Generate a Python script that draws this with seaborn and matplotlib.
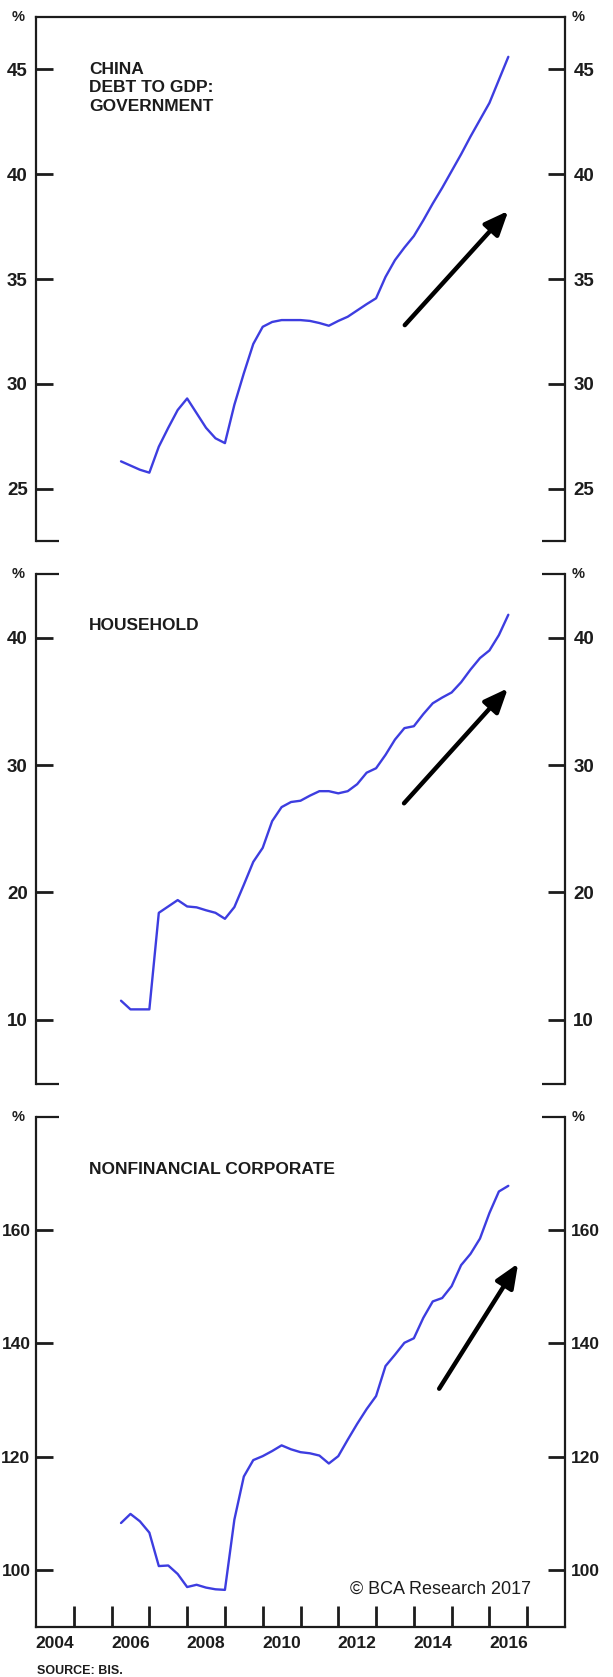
import matplotlib
matplotlib.use("Agg")
import matplotlib.pyplot as plt
import numpy as np
import pandas as pd
import seaborn as sns

# Quarterly observations, 2006Q1 - 2016Q2 (debt as % of GDP)
periods = pd.period_range("2006Q1", "2016Q2", freq="Q")

government = [26.3, 26.1, 25.9, 25.76, 27.0, 27.9, 28.75, 29.3,
              28.6, 27.9, 27.4, 27.17, 29.0, 30.5, 31.9, 32.72,
              32.95, 33.04, 33.04, 33.04, 33.0, 32.9, 32.77, 33.0,
              33.2, 33.5, 33.8, 34.08, 35.1, 35.9, 36.5, 37.05,
              37.8, 38.6, 39.35, 40.15, 40.95, 41.8, 42.6, 43.4,
              44.5, 45.6]

household = [11.5, 10.82, 10.82, 10.82, 18.4, 18.9, 19.4, 18.9,
             18.83, 18.6, 18.4, 17.93, 18.85, 20.6, 22.4, 23.5,
             25.6, 26.7, 27.1, 27.2, 27.6, 27.95, 27.95, 27.78,
             27.95, 28.5, 29.4, 29.75, 30.8, 32.0, 32.9, 33.05,
             34.0, 34.85, 35.3, 35.7, 36.5, 37.5, 38.4, 39.0,
             40.2, 41.8]

corporate = [108.3, 109.9, 108.6, 106.6, 100.7, 100.8, 99.3, 97.0,
             97.4, 96.9, 96.6, 96.5, 108.9, 116.5, 119.4, 120.1,
             121.0, 122.0, 121.3, 120.8, 120.6, 120.2, 118.8, 120.1,
             123.0, 125.8, 128.4, 130.7, 136.0, 138.0, 140.1, 140.9,
             144.5, 147.4, 148.0, 150.1, 153.8, 155.8, 158.5, 163.0,
             166.8, 167.8]

panel_titles = ["CHINA\nDEBT TO GDP:\nGOVERNMENT", "HOUSEHOLD",
                "NONFINANCIAL CORPORATE"]
y_limits = [(22.5, 47.5), (5, 45), (90, 180)]
y_ticks = [[25, 30, 35, 40, 45], [10, 20, 30, 40], [100, 120, 140, 160]]
# trend arrows: (start year, start value, end year, end value)
trend_arrows = [(2013.76, 32.8, 2016.5, 38.25),
                (2013.74, 27.0, 2016.49, 36.03),
                (2014.67, 132.0, 2016.76, 154.1)]
year_ticks = list(range(2005, 2018))
year_labels = [str(y) for y in range(2004, 2017, 2)]

df = pd.DataFrame({
    "t": [p.qyear + p.quarter / 4 for p in periods],
    "government": government,
    "household": household,
    "corporate": corporate,
})

sns.set_style("white")
plt.rcParams["font.family"] = ["Liberation Sans", "DejaVu Sans"]
plt.rcParams["font.weight"] = "bold"

BLUE = "#3d3de0"
INK = "#1c1c1c"

fig = plt.figure(figsize=(6.13, 16.77), dpi=100)
W, H = 613.0, 1677.0
x0, x1 = 36, 565
frames = [(17, 541), (574, 1083.5), (1116.7, 1626.7)]
title_y = [0.915, 0.913, 0.911]
label_size = [13.5, 13.5, 12.5]
label_pad = [6, 6, 4]
axes = []
for top, bot in frames:
    ax = fig.add_axes([x0 / W, 1 - bot / H, (x1 - x0) / W, (bot - top) / H])
    axes.append(ax)

cols = ["government", "household", "corporate"]
seg = 23 / (x1 - x0)
for i, ax in enumerate(axes):
    sns.lineplot(data=df, x="t", y=cols[i], ax=ax, color=BLUE, linewidth=1.7)
    ax.set_xlabel("")
    ax.set_ylabel("")
    ax.set_xlim(2004, 2018)
    ax.set_ylim(*y_limits[i])
    ax.set_yticks(y_ticks[i])
    ax.tick_params(axis="y", which="both", left=True, right=True,
                   labelleft=True, labelright=True, direction="in",
                   length=12, width=2, color=INK, labelsize=label_size[i],
                   pad=label_pad[i], labelcolor=INK)
    for side in ["left", "right"]:
        ax.spines[side].set_visible(True)
        ax.spines[side].set_linewidth(1.6)
        ax.spines[side].set_color(INK)
    for side in ["top", "bottom"]:
        ax.spines[side].set_visible(False)

    # frame pieces
    if i == 0:
        ax.spines["top"].set_visible(True)
        ax.spines["top"].set_linewidth(1.6)
        ax.spines["top"].set_color(INK)
    else:
        for xs in ([0, seg], [1 - seg, 1]):
            ax.plot(xs, [1, 1], transform=ax.transAxes, clip_on=False,
                    color=INK, lw=1.6, solid_capstyle="butt")
    if i < 2:
        for xs in ([0, seg], [1 - seg, 1]):
            ax.plot(xs, [0, 0], transform=ax.transAxes, clip_on=False,
                    color=INK, lw=1.6, solid_capstyle="butt")
        ax.set_xticks([])
    else:
        ax.spines["bottom"].set_visible(True)
        ax.spines["bottom"].set_linewidth(1.6)
        ax.spines["bottom"].set_color(INK)
        ax.set_xticks(year_ticks)
        ax.set_xticklabels([""] * len(year_ticks))
        ax.tick_params(axis="x", which="major", bottom=True, direction="in",
                       length=15, width=2, color=INK)
        ax.set_xticks([y + 0.5 for y in range(2004, 2017, 2)], minor=True)
        ax.set_xticklabels(year_labels, minor=True)
        ax.tick_params(axis="x", which="minor", bottom=True, length=0,
                       labelsize=12.5, pad=7, labelcolor=INK)

    # percent markers at the top corners
    ax.text(-0.034, 1, "%", transform=ax.transAxes, ha="center", va="center",
            fontsize=10.5, color=INK)
    ax.text(1.0246, 1, "%", transform=ax.transAxes, ha="center", va="center",
            fontsize=10.5, color=INK)

    # panel title
    ax.text(0.1, title_y[i], panel_titles[i],
            transform=ax.transAxes, ha="left", va="top", fontsize=12.5,
            color=INK, linespacing=1.3)

    # trend arrow
    xa, ya, xb, yb = trend_arrows[i]
    ax.annotate("", xy=(xb, yb), xytext=(xa, ya),
                arrowprops=dict(arrowstyle="-|>,head_length=1.0,head_width=0.42",
                                mutation_scale=14.5, lw=3.2, color="black",
                                shrinkA=0, shrinkB=0))

axes[2].text(0.9357, 0.064, "\u00a9 BCA Research 2017",
             transform=axes[2].transAxes, ha="right", va="baseline",
             fontsize=13, fontweight="normal", color=INK)

fig.text(37 / W, 1 - 1665 / H, "SOURCE: BIS.", ha="left", va="top",
         fontsize=9, color=INK)

fig.savefig("out.png", dpi=100)
